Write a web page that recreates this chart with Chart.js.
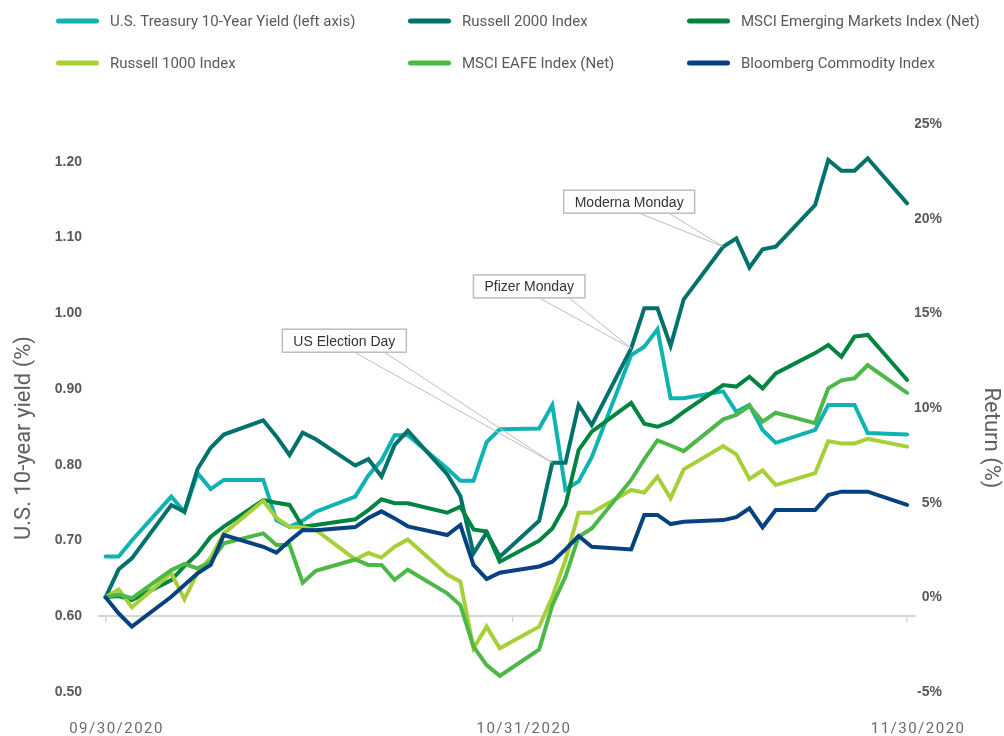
<!DOCTYPE html>
<html>
<head>
<meta charset="utf-8">
<script src="https://cdn.jsdelivr.net/npm/chart.js@4.4.1/dist/chart.umd.min.js"></script>
<style>
  html, body { margin: 0; padding: 0; background: #fff; }
</style>
</head>
<body>
<canvas id="chart" width="1004" height="736"></canvas>
<script>
// trading days, 09/30/2020 - 11/30/2020
const dates = [
  '09/30/2020', '10/01/2020', '10/02/2020', '10/05/2020', '10/06/2020', '10/07/2020', '10/08/2020', '10/09/2020',
  '10/12/2020', '10/13/2020', '10/14/2020', '10/15/2020', '10/16/2020', '10/19/2020', '10/20/2020', '10/21/2020',
  '10/22/2020', '10/23/2020', '10/26/2020', '10/27/2020', '10/28/2020', '10/29/2020', '10/30/2020', '11/02/2020',
  '11/03/2020', '11/04/2020', '11/05/2020', '11/06/2020', '11/09/2020', '11/10/2020', '11/11/2020', '11/12/2020',
  '11/13/2020', '11/16/2020', '11/17/2020', '11/18/2020', '11/19/2020', '11/20/2020', '11/23/2020', '11/24/2020',
  '11/25/2020', '11/26/2020', '11/27/2020', '11/30/2020'
];

// left axis, yield in %
const treasuryYield = [
  0.679, 0.679, 0.700, 0.758, 0.738, 0.789, 0.768, 0.780, 0.780, 0.727,
  0.718, 0.726, 0.738, 0.758, 0.786, 0.806, 0.839, 0.839, 0.795, 0.779,
  0.779, 0.830, 0.847, 0.848, 0.879, 0.767, 0.778, 0.810, 0.945, 0.956,
  0.979, 0.888, 0.888, 0.897, 0.870, 0.879, 0.846, 0.829, 0.846, 0.879,
  0.879, 0.879, 0.842, 0.840
];

// right axis, cumulative return in %
const russell2000 = [
  0, 1.48, 2.06, 4.88, 4.52, 6.78, 7.90, 8.60, 9.35, 8.50,
  7.52, 8.70, 8.35, 6.96, 7.30, 6.38, 8.05, 8.80, 6.50, 5.35,
  2.32, 3.42, 2.14, 4.05, 7.11, 7.11, 10.16, 9.10, 13.15, 15.27,
  15.27, 13.28, 15.74, 18.52, 18.96, 17.42, 18.38, 18.52, 20.72, 23.10,
  22.53, 22.53, 23.19, 20.81
];
const msciEM = [
  0, 0.07, -0.14, 0.91, 1.65, 2.29, 3.20, 3.73, 5.14, 5.00,
  4.88, 3.73, 3.82, 4.12, 4.61, 5.18, 4.97, 4.97, 4.47, 4.79,
  3.59, 3.47, 1.88, 2.99, 3.64, 4.88, 7.78, 8.75, 10.27, 9.17,
  9.01, 9.28, 9.80, 11.21, 11.13, 11.65, 11.04, 11.83, 12.90, 13.33,
  12.71, 13.77, 13.86, 11.48
];
const russell1000 = [
  0, 0.42, -0.53, 1.28, -0.10, 1.30, 2.10, 3.38, 5.10, 4.20,
  3.73, 3.70, 3.56, 2.00, 2.34, 2.10, 2.67, 3.06, 1.20, 0.83,
  -2.69, -1.55, -2.69, -1.55, 0.03, 1.97, 4.47, 4.47, 5.67, 5.53,
  6.37, 5.23, 6.76, 7.99, 7.55, 6.25, 6.70, 5.93, 6.56, 8.25,
  8.13, 8.13, 8.37, 7.96
];
const msciEAFE = [
  0, 0.15, -0.05, 1.44, 1.76, 1.53, 1.88, 2.85, 3.38, 2.76,
  2.76, 0.77, 1.40, 2.00, 1.71, 1.71, 0.93, 1.46, 0.21, -0.41,
  -2.60, -3.58, -4.15, -2.75, -0.41, 1.09, 3.20, 3.64, 6.20, 7.30,
  8.29, 8.02, 7.72, 9.40, 9.63, 10.10, 9.28, 9.75, 9.20, 11.04,
  11.46, 11.57, 12.27, 10.80
];
const bcom = [
  0, -0.85, -1.55, 0.03, 0.65, 1.27, 1.71, 3.29, 2.67, 2.36,
  2.99, 3.55, 3.54, 3.71, 4.19, 4.54, 4.17, 3.75, 3.29, 3.82,
  1.71, 0.97, 1.30, 1.63, 1.88, 2.53, 3.24, 2.67, 2.53, 4.35,
  4.35, 3.87, 3.99, 4.08, 4.23, 4.70, 3.70, 4.61, 4.61, 5.40,
  5.58, 5.58, 5.58, 4.88
];

const xTickDates = ['09/30/2020', '10/31/2020', '11/30/2020'];

const callouts = [
  { text: 'US Election Day', date: '11/03/2020' },
  { text: 'Pfizer Monday', date: '11/09/2020' },
  { text: 'Moderna Monday', date: '11/16/2020' }
];

// day numbers from the first date, so weekends keep their width
function dayNum(s) {
  const [m, d, y] = s.split('/').map(Number);
  return Date.UTC(y, m - 1, d) / 86400000;
}
const start = dayNum(dates[0]);
const days = dates.map(d => dayNum(d) - start);
const pts = arr => arr.map((v, i) => ({ x: days[i], y: v }));

const overlays = {
  id: 'overlays',
  beforeDraw(chart) {
    chart.ctx.letterSpacing = '0px';
  },
  afterDatasetsDraw(chart, args, opts) {
    const { ctx, scales } = chart;
    const anchor = chart.data.datasets[opts.anchor];
    ctx.save();
    ctx.font = '14px "Liberation Sans", Arial, sans-serif';
    callouts.forEach((c, i) => {
      const k = dates.indexOf(c.date);
      const tx = scales.x.getPixelForValue(days[k]);
      const ty = scales.y1.getPixelForValue(anchor.data[k].y);
      const cx = tx + opts.offsets[i][0];
      const cy = ty + opts.offsets[i][1];
      const w = ctx.measureText(c.text).width + 22;
      const h = 23;
      const bx = cx - w / 2, by = cy - h / 2;
      ctx.strokeStyle = '#bdbdbd';
      ctx.lineWidth = 1;
      ctx.beginPath();
      ctx.moveTo(cx + 10, by + h);
      ctx.lineTo(tx, ty);
      ctx.lineTo(cx + 40, by + h);
      ctx.stroke();
      ctx.fillStyle = '#fff';
      ctx.fillRect(bx, by, w, h);
      ctx.lineWidth = 1.5;
      ctx.strokeRect(bx, by, w, h);
      ctx.fillStyle = '#333';
      ctx.textAlign = 'center';
      ctx.textBaseline = 'middle';
      ctx.fillText(c.text, cx, cy + 1);
    });
    ctx.restore();
    // date labels (drawn next, z 1) are spaced out
    ctx.letterSpacing = '1.5px';
  },
  afterDraw(chart, args, opts) {
    const ctx = chart.ctx;
    ctx.letterSpacing = '0px';
    ctx.save();
    ctx.font = '15px Roboto, "Liberation Sans", sans-serif';
    ctx.textAlign = 'left';
    ctx.textBaseline = 'middle';
    chart.data.datasets.forEach((ds, i) => {
      const x = opts.cols[i % 3];
      const y = opts.rows[Math.floor(i / 3)];
      ctx.strokeStyle = ds.borderColor;
      ctx.lineWidth = 5;
      ctx.lineCap = 'round';
      ctx.beginPath();
      ctx.moveTo(x + 2.5, y);
      ctx.lineTo(x + 40.5, y);
      ctx.stroke();
      ctx.fillStyle = '#595959';
      ctx.fillText(ds.label, x + 54, y + 1);
    });
    ctx.restore();
  }
};

const tickFont = { family: '"Liberation Sans", Arial, sans-serif', size: 14, weight: 'bold' };
const titleFont = { family: 'Roboto, "Liberation Sans", sans-serif', size: 22 };

new Chart(document.getElementById('chart').getContext('2d'), {
  type: 'line',
  data: {
    datasets: [
      { label: 'U.S. Treasury 10-Year Yield (left axis)', data: pts(treasuryYield), yAxisID: 'y', borderColor: '#0fb3b1', order: 5 },
      { label: 'Russell 2000 Index', data: pts(russell2000), yAxisID: 'y1', borderColor: '#00716b', order: 4 },
      { label: 'MSCI Emerging Markets Index (Net)', data: pts(msciEM), yAxisID: 'y1', borderColor: '#00843f', order: 3 },
      { label: 'Russell 1000 Index', data: pts(russell1000), yAxisID: 'y1', borderColor: '#a7cf3a', order: 2 },
      { label: 'MSCI EAFE Index (Net)', data: pts(msciEAFE), yAxisID: 'y1', borderColor: '#4db748', order: 1 },
      { label: 'Bloomberg Commodity Index', data: pts(bcom), yAxisID: 'y1', borderColor: '#06427f', order: 0 }
    ]
  },
  options: {
    responsive: false,
    devicePixelRatio: 1,
    animation: false,
    layout: { padding: { top: 124, left: 0, right: 62, bottom: 44 } },
    elements: {
      point: { radius: 0 },
      line: { borderWidth: 4, tension: 0, fill: false, borderCapStyle: 'round' }
    },
    plugins: {
      legend: { display: false },
      tooltip: { enabled: false },
      overlays: {
        anchor: 1,
        offsets: [[-208, -122], [-102, -62], [-94, -45]],
        cols: [56, 408, 687],
        rows: [21, 63]
      }
    },
    scales: {
      x: {
        type: 'linear',
        min: -0.5,
        max: 61.6,
        position: { y: 0.6 },
        afterBuildTicks: s => { s.ticks = xTickDates.map(d => ({ value: dayNum(d) - start })); },
        // labels sit far below the line; keep that out of the layout
        afterFit: s => { s.paddingLeft = 0; s.paddingRight = 0; s.paddingTop = 0; s.paddingBottom = 0; },
        grid: { drawOnChartArea: false, drawTicks: true, tickLength: 5, color: '#d6d6d6', lineWidth: 1.5 },
        border: { color: '#d6d6d6', width: 2 },
        ticks: {
          z: 1,
          padding: 99,
          labelOffset: 11,
          maxRotation: 0,
          autoSkip: false,
          callback: (v, i) => xTickDates[i],
          font: { family: 'Roboto, "Liberation Sans", sans-serif', size: 15 },
          color: '#6b6b6b'
        }
      },
      y: {
        position: 'left',
        min: 0.5,
        max: 1.25,
        afterFit: s => { s.width = 99; },
        grid: { display: false },
        border: { display: false },
        ticks: {
          stepSize: 0.1,
          includeBounds: false,
          padding: 9,
          callback: v => v.toFixed(2),
          font: tickFont,
          color: '#595959'
        },
        title: {
          display: true,
          text: 'U.S. 10-year yield (%)' + ' '.repeat(11),
          padding: { top: 11, bottom: 0 },
          font: titleFont,
          color: '#5d6166'
        }
      },
      y1: {
        position: 'right',
        min: -5,
        max: 25,
        // narrow box: labels end at its right edge, title sits out in the padding
        afterFit: s => { s.width = 27; },
        grid: { display: false },
        border: { display: false },
        ticks: {
          stepSize: 5,
          padding: 0,
          crossAlign: 'far',
          callback: v => v + '%',
          font: tickFont,
          color: '#595959'
        },
        title: {
          display: true,
          text: ' '.repeat(11) + 'Return (%)',
          padding: { top: -62, bottom: 0 },
          font: titleFont,
          color: '#5d6166'
        }
      }
    }
  },
  plugins: [overlays]
});
</script>
</body>
</html>
